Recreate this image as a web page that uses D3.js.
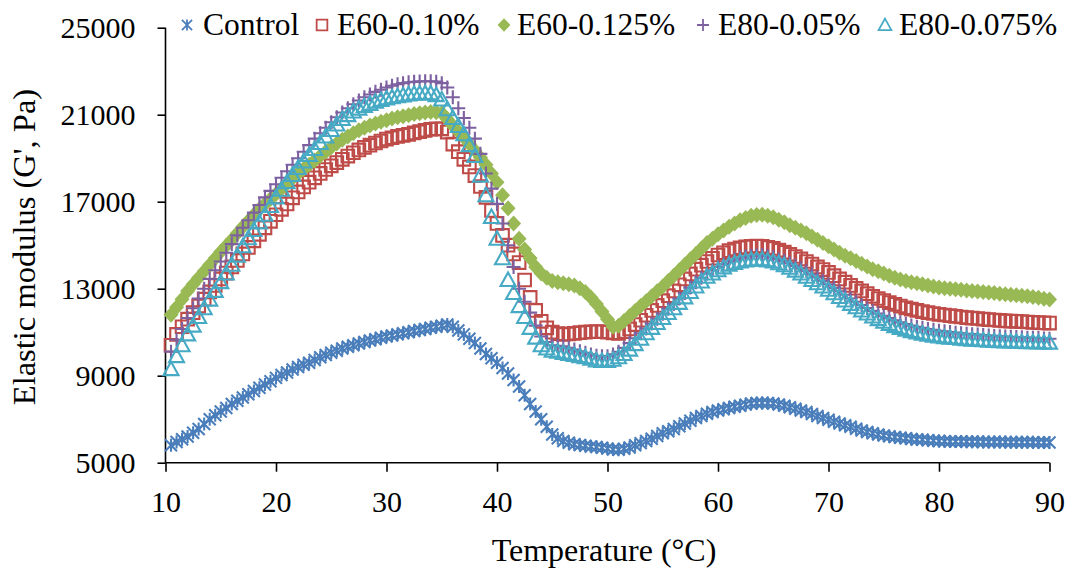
<!DOCTYPE html>
<html><head><meta charset="utf-8">
<script src="https://cdn.jsdelivr.net/npm/d3@7"></script>
<style>
body{margin:0;background:#fff}
svg{display:block}
text{font-family:"Liberation Serif","Times New Roman",serif;fill:#000}
</style>
</head><body>
<svg id="chart" width="1074" height="572"></svg>
<script>
// ---- data ----
const temperatures = [
 10.5,11,11.5,12,12.5,13,13.5,14,14.5,15,
 15.5,16,16.5,17,17.5,18,18.5,19,19.5,20,
 20.5,21,21.5,22,22.5,23,23.5,24,24.5,25,
 25.5,26,26.5,27,27.5,28,28.5,29,29.5,30,
 30.5,31,31.5,32,32.5,33,33.5,34,34.5,35,
 35.5,36,36.5,37,37.5,38,38.5,39,39.5,40,
 40.5,41,41.5,42,42.5,43,43.5,44,44.5,45,
 45.5,46,46.5,47,47.5,48,48.5,49,49.5,50,
 50.5,51,51.5,52,52.5,53,53.5,54,54.5,55,
 55.5,56,56.5,57,57.5,58,58.5,59,59.5,60,
 60.5,61,61.5,62,62.5,63,63.5,64,64.5,65,
 65.5,66,66.5,67,67.5,68,68.5,69,69.5,70,
 70.5,71,71.5,72,72.5,73,73.5,74,74.5,75,
 75.5,76,76.5,77,77.5,78,78.5,79,79.5,80,
 80.5,81,81.5,82,82.5,83,83.5,84,84.5,85,
 85.5,86,86.5,87,87.5,88,88.5,89,89.5,90
];
const control = [
 5800,5950,6080,6200,6380,6550,6780,7000,7180,7350,
 7520,7700,7850,8000,8150,8300,8450,8600,8750,8900,
 9030,9150,9280,9400,9500,9600,9720,9850,9950,10050,
 10150,10250,10330,10400,10480,10550,10620,10680,10740,10800,
 10850,10900,10950,11000,11050,11100,11150,11200,11250,11300,
 11350,11250,11080,10900,10700,10500,10250,10000,9800,9600,
 9350,9100,8800,8500,8100,7700,7350,7000,6650,6300,
 6120,6000,5920,5850,5810,5780,5750,5720,5690,5650,
 5610,5600,5640,5700,5800,5900,6000,6100,6230,6350,
 6450,6550,6680,6800,6930,7050,7150,7250,7330,7400,
 7460,7520,7570,7620,7670,7720,7740,7750,7740,7720,
 7680,7620,7550,7480,7400,7330,7240,7150,7060,6970,
 6880,6800,6720,6650,6560,6480,6410,6350,6300,6250,
 6210,6180,6150,6120,6090,6070,6050,6030,6010,6000,
 5990,5980,5975,5970,5965,5960,5958,5955,5952,5950,
 5948,5946,5944,5942,5940,5938,5936,5934,5932,5930
];
const e60_010 = [
 10400,10900,11250,11600,11900,12200,12520,12850,13150,13450,
 13720,14000,14300,14600,14900,15200,15500,15800,16100,16400,
 16650,16900,17180,17450,17680,17900,18100,18300,18480,18650,
 18800,18950,19100,19250,19380,19500,19600,19700,19790,19880,
 19940,20000,20050,20100,20160,20220,20280,20330,20350,20350,
 20200,19650,19300,18950,18600,18200,17700,17200,16600,16000,
 15450,15000,14600,14200,13400,12600,12000,11500,11200,11000,
 10930,10900,10920,10950,10980,11000,11020,11030,11020,11000,
 10970,10950,11030,11150,11350,11550,11780,12000,12230,12450,
 12680,12900,13180,13450,13680,13900,14080,14250,14400,14550,
 14650,14750,14820,14880,14920,14950,14960,14950,14900,14850,
 14770,14680,14580,14480,14370,14250,14130,14000,13880,13750,
 13600,13450,13300,13150,13020,12900,12770,12650,12550,12450,
 12360,12280,12200,12120,12060,12000,11950,11900,11860,11820,
 11790,11760,11730,11700,11670,11650,11630,11600,11580,11560,
 11540,11520,11510,11500,11490,11470,11455,11440,11430,11420
];
const e60_0125 = [
 11800,12150,12520,12900,13200,13500,13800,14100,14400,14700,
 14980,15250,15550,15850,16120,16400,16650,16900,17120,17350,
 17600,17850,18080,18300,18500,18700,18900,19100,19300,19500,
 19680,19850,20000,20150,20280,20400,20500,20600,20680,20750,
 20820,20880,20930,20980,21030,21070,21100,21120,21110,21080,
 20800,20500,20230,19950,19650,19350,19030,18700,18300,17900,
 17300,16700,16000,15300,14800,14400,14000,13700,13500,13350,
 13300,13250,13200,13150,13020,12850,12600,12300,11950,11600,
 11250,11300,11520,11750,11980,12200,12420,12650,12880,13100,
 13350,13600,13850,14100,14350,14600,14850,15100,15300,15500,
 15680,15850,16000,16150,16250,16350,16390,16400,16350,16280,
 16170,16050,15920,15800,15680,15550,15400,15250,15100,14950,
 14800,14650,14520,14400,14270,14150,14020,13900,13800,13700,
 13600,13500,13420,13350,13300,13250,13200,13150,13100,13050,
 13020,13000,12970,12950,12920,12900,12870,12850,12820,12800,
 12770,12750,12720,12700,12680,12650,12620,12580,12540,12500
];
const e80_005 = [
 10100,10650,11150,11650,12100,12550,13000,13450,13850,14250,
 14650,15050,15450,15800,16150,16500,16850,17200,17500,17800,
 18100,18400,18700,19000,19300,19600,19900,20150,20400,20650,
 20880,21100,21300,21480,21650,21800,21930,22050,22150,22250,
 22330,22400,22450,22490,22510,22530,22540,22540,22520,22450,
 22250,21800,21300,20850,20400,19900,19200,18300,17600,16900,
 16000,15000,14000,13000,12400,11900,11300,10800,10550,10400,
 10370,10350,10280,10200,10120,10050,9980,9920,9900,9900,
 9980,10100,10280,10500,10720,10950,11170,11400,11620,11850,
 12080,12300,12550,12800,13050,13300,13500,13700,13850,14000,
 14130,14250,14340,14420,14480,14520,14540,14550,14500,14450,
 14370,14280,14170,14050,13930,13800,13660,13520,13360,13200,
 13040,12880,12720,12550,12400,12250,12110,11980,11860,11750,
 11650,11550,11460,11380,11310,11250,11200,11150,11110,11070,
 11040,11010,10980,10950,10930,10910,10890,10870,10850,10830,
 10815,10800,10790,10780,10770,10750,10740,10730,10715,10700
];
const e80_0075 = [
 9300,9900,10400,10900,11300,11700,12100,12500,12900,13300,
 13700,14100,14520,14950,15320,15700,16050,16400,16800,17200,
 17550,17900,18230,18550,18850,19150,19420,19700,20000,20300,
 20550,20800,20980,21150,21280,21400,21500,21600,21680,21750,
 21800,21850,21890,21930,21960,21980,21990,21980,21900,21700,
 21250,20850,20480,20100,19600,19100,18200,17300,16300,15300,
 14400,13400,12800,12200,11700,11200,10750,10400,10250,10150,
 10100,10050,10000,9950,9900,9850,9780,9700,9680,9680,
 9730,9850,10000,10200,10450,10700,10950,11200,11420,11650,
 11880,12100,12350,12600,12850,13100,13330,13550,13700,13850,
 13980,14100,14180,14250,14300,14330,14345,14350,14300,14250,
 14170,14080,13960,13830,13700,13550,13400,13250,13100,12950,
 12790,12620,12460,12300,12150,12000,11860,11720,11600,11480,
 11380,11280,11200,11120,11050,10990,10930,10880,10840,10800,
 10770,10750,10730,10700,10680,10660,10640,10630,10610,10600,
 10590,10580,10570,10560,10550,10545,10540,10530,10525,10520
];
const seriesNames = ["Control","E60-0.10%","E60-0.125%","E80-0.05%","E80-0.075%"];
const xTicks = [10,20,30,40,50,60,70,80,90];
const yTicks = [5000,9000,13000,17000,21000,25000];
const xTitle = "Temperature (\u00B0C)";
const yTitle = "Elastic modulus (G', Pa)";

// ---- drawing ----
const svg = d3.select("#chart");
const x = d3.scaleLinear().domain([10,90]).range([165.5,1049.5]);
const y = d3.scaleLinear().domain([5000,25000]).range([462.7,27.7]);

const markers = {
  star: "M-6,-6L6,6M-6,6L6,-6M0,-6.5L0,6.5",
  square: "M-6.3,-6.3H6.3V6.3H-6.3Z",
  diamond: "M0,-8L7.5,0L0,8L-7.5,0Z",
  plus: "M-7,0H7M0,-7V7",
  triangle: "M0,-7.5L7.5,6H-7.5Z"
};
const styles = [
  {shape:"star", stroke:"#4A7EBB", fill:"none"},
  {shape:"square", stroke:"#BE4B48", fill:"none"},
  {shape:"diamond", stroke:"none", fill:"#98B954"},
  {shape:"plus", stroke:"#7D60A0", fill:"none"},
  {shape:"triangle", stroke:"#46AAC5", fill:"none"}
];
const allSeries = [control, e60_010, e60_0125, e80_005, e80_0075];

// axes
const yAxis = d3.axisLeft(y).tickValues(yTicks).tickSize(8).tickSizeOuter(0).tickPadding(22).tickFormat(d=>String(d));
const gy = svg.append("g").attr("transform","translate(165.5,0)").call(yAxis);
const xAxis = d3.axisBottom(x).tickValues(xTicks).tickSize(9).tickSizeOuter(0).tickPadding(19).tickFormat(d=>String(d));
const gx = svg.append("g").attr("transform","translate(0,462.7)").call(xAxis);
[gx,gy].forEach(g=>{
  g.selectAll("path.domain").attr("stroke","#000").attr("stroke-width",1.6);
  g.selectAll(".tick line").attr("stroke","#000").attr("stroke-width",1.6);
  g.selectAll(".tick text").attr("font-size",30).attr("font-family","Liberation Serif, Times New Roman, serif").attr("fill","#000");
});
gy.select("path.domain").attr("d","M0,462.7V27.7");
gx.select("path.domain").attr("d","M165.5,0H1049.5");

// series
allSeries.forEach((vals,si)=>{
  const st = styles[si];
  svg.append("g").selectAll("path").data(temperatures.map((t,i)=>[t,vals[i]])).join("path")
    .attr("d", markers[st.shape])
    .attr("transform", d=>`translate(${x(d[0])},${y(d[1])})`)
    .attr("stroke", st.stroke).attr("stroke-width", 2.1).attr("fill", st.fill);
});

// legend
const legendPos = [[187,203],[322,337],[504,517],[703,718],[885,899]];
seriesNames.forEach((name,si)=>{
  const st = styles[si];
  const g = svg.append("g");
  g.append("path").attr("d", markers[st.shape])
    .attr("transform", `translate(${legendPos[si][0]},25) scale(0.85)`)
    .attr("stroke", st.stroke).attr("stroke-width", 2.1).attr("fill", st.fill);
  g.append("text").attr("x", legendPos[si][1]).attr("y", 34.5).attr("font-size",31.5).text(name);
});

// titles
svg.append("text").attr("x", 604).attr("y", 561).attr("text-anchor","middle").attr("font-size",32).text(xTitle);
svg.append("text").attr("transform","translate(35,247) rotate(-90)").attr("text-anchor","middle").attr("font-size",32.5).text(yTitle);
</script>
</body></html>
